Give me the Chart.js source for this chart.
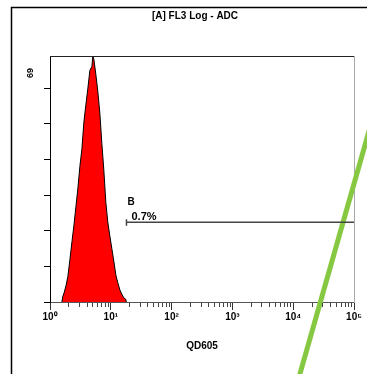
<!DOCTYPE html>
<html><head><meta charset="utf-8">
<script src="https://cdn.jsdelivr.net/npm/chart.js@4"></script>
<style>html,body{margin:0;padding:0;background:#fff}#wrap{width:367px;height:374px}</style>
</head><body><div id="wrap"><canvas id="c" width="367" height="374"></canvas></div>
<script>
const chartTitle = "[A] FL3 Log - ADC";
const xAxisTitle = "QD605";
const yMaxLabel = "69";
const xTickValues = [1, 10, 100, 1000, 10000, 100000];
const xTickLabels = ["10\u2070", "10\u00b9", "10\u00b2", "10\u00b3", "10\u2074", "10\u2075"];
const yTickValues = [0, 10, 20, 30, 40, 50, 60];
// histogram (FL3 QD605 intensity vs count)
const histX = [1.57, 1.62, 1.70, 1.83, 1.97, 2.13, 2.30, 2.48, 2.67, 2.88, 3.10, 3.35, 3.61, 3.89, 4.20, 4.53, 4.88, 5.07, 5.27, 5.68, 6.12, 6.60, 7.12, 7.68, 8.28, 8.93, 9.63, 10.4, 11.2, 12.1, 13.0, 14.1, 15.2, 16.3, 17.6, 18.0];
const histY = [0, 1.5, 2.5, 4.5, 7.2, 12, 17, 21.6, 26.8, 32, 38, 43, 50.5, 55.3, 60, 65, 66, 69, 68, 63.8, 59, 53, 44.5, 37, 28, 22.4, 18.6, 15, 11.5, 7.6, 5.5, 3.4, 2.2, 1.2, 0.8, 0];
// gate B
const gateName = "B";
const gatePct = "0.7%";
const gateX = [18.1, 18.1, 18.1, 100000];
const gateY = [23.2, 21.4, 22.4, 22.4];
// green overlay line
const greenX = [178000, 12080];
const greenY = [48.2, -21.9];

const zip = (a, b) => a.map((v, i) => ({x: v, y: b[i]}));

const decor = {
  id: 'decor',
  beforeDraw(chart) {
    const ctx = chart.ctx;
    ctx.save();
    ctx.strokeStyle = '#000';
    ctx.lineWidth = 1.5;
    ctx.beginPath();
    ctx.moveTo(11.5, 374); ctx.lineTo(11.5, 7.5); ctx.lineTo(367, 7.5);
    ctx.stroke();
    ctx.restore();
  },
  afterDatasetsDraw(chart) {
    const ctx = chart.ctx, ca = chart.chartArea;
    const xs = chart.scales.x, ys = chart.scales.y;
    ctx.save();
    ctx.strokeStyle = '#222'; ctx.lineWidth = 1;
    ctx.beginPath(); ctx.moveTo(ca.left, ca.top + 0.5); ctx.lineTo(ca.right, ca.top + 0.5); ctx.stroke();
    ctx.strokeStyle = '#444';
    for (let d = 1; d < 100000; d *= 10) {
      for (let k = 2; k <= 9; k++) {
        const px = Math.round(xs.getPixelForValue(k * d)) + 0.5;
        ctx.beginPath(); ctx.moveTo(px, ca.bottom + 1); ctx.lineTo(px, ca.bottom + 5); ctx.stroke();
      }
    }
    ctx.fillStyle = '#000';
    ctx.font = 'bold 9px "Liberation Sans", Arial, sans-serif';
    ctx.textAlign = 'center'; ctx.textBaseline = 'middle';
    ctx.save();
    ctx.translate(31, ys.getPixelForValue(69) + 17);
    ctx.rotate(-Math.PI / 2);
    ctx.fillText(yMaxLabel, 0, 0);
    ctx.restore();
    const gx = xs.getPixelForValue(gateX[0]);
    const gy = ys.getPixelForValue(gateY[2]);
    ctx.textAlign = 'left'; ctx.textBaseline = 'alphabetic';
    ctx.font = 'bold 10px "Liberation Sans", Arial, sans-serif';
    ctx.fillText(gateName, gx + 1, gy - 17);
    ctx.font = 'bold 11px "Liberation Sans", Arial, sans-serif';
    ctx.fillText(gatePct, gx + 5, gy - 2);
    ctx.restore();
  }
};

new Chart(document.getElementById('c'), {
  type: 'line',
  data: {
    datasets: [
      {data: zip(histX, histY), fill: 'origin', backgroundColor: '#ff0000', borderColor: '#000', borderWidth: 1, pointRadius: 0, tension: 0},
      {data: zip(gateX, gateY), fill: false, borderColor: '#444', borderWidth: 1.5, pointRadius: 0, tension: 0},
      {data: zip(greenX, greenY), fill: false, borderColor: '#86c841', borderWidth: 5, pointRadius: 0, clip: false}
    ]
  },
  options: {
    responsive: false, animation: false, devicePixelRatio: 1,
    layout: {padding: {left: 23, right: 0, top: 0, bottom: 0}},
    plugins: {
      legend: {display: false}, tooltip: {enabled: false},
      title: {display: true, text: chartTitle, color: '#000', font: {family: '"Liberation Sans", Arial, sans-serif', size: 10, weight: 'bold', lineHeight: 1.2}, padding: {top: 10, bottom: 34}}
    },
    scales: {
      x: {
        type: 'logarithmic', min: 1, max: 100000, position: 'bottom',
        afterBuildTicks: s => { s.ticks = xTickValues.map(v => ({value: v, major: true})); },
        afterFit: s => { s.height = 72; },
        grid: {drawOnChartArea: false, tickLength: 8, color: '#333'},
        border: {color: '#555', width: 1},
        ticks: {autoSkip: false, maxRotation: 0, padding: 1, color: '#000',
          font: {family: '"Liberation Sans", Arial, sans-serif', size: 10, weight: 'bold'},
          callback: (v, i) => xTickLabels[i]},
        title: {display: true, text: xAxisTitle, color: '#000', font: {family: '"Liberation Sans", Arial, sans-serif', size: 10, weight: 'bold'}, padding: {top: 0, bottom: 22}}
      },
      y: {
        type: 'linear', min: 0, max: 69, position: 'left',
        afterBuildTicks: s => { s.ticks = yTickValues.map(v => ({value: v})); },
        afterFit: s => { s.width = 27; },
        grid: {drawOnChartArea: false, tickLength: 6, color: '#000'},
        border: {color: '#000', width: 1},
        ticks: {display: false}
      },
      y2: {
        type: 'linear', min: 0, max: 69, position: 'right',
        afterFit: s => { s.width = 13; },
        grid: {display: false, drawOnChartArea: false, drawTicks: false},
        border: {color: '#aaa', width: 1},
        ticks: {display: false}
      }
    }
  },
  plugins: [decor]
});
</script>
</body></html>
